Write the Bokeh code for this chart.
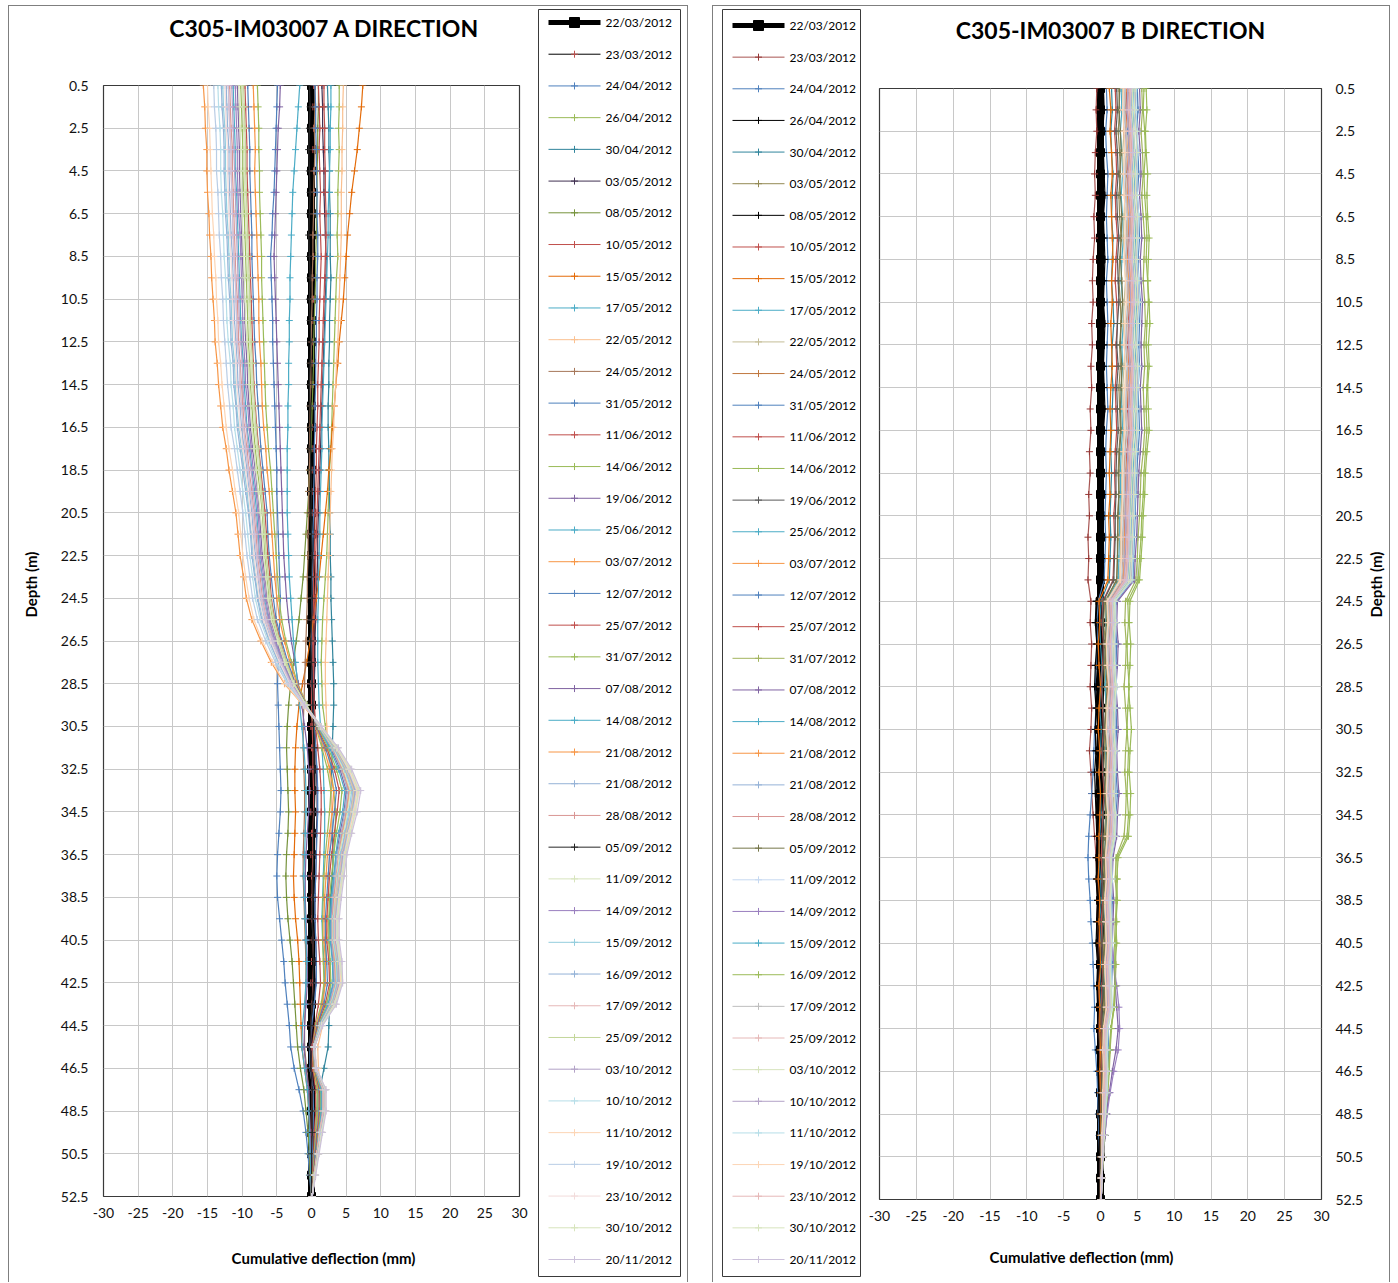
from bokeh.plotting import figure
from bokeh.models import Range1d, Spacer, Plot, PrintfTickFormatter
from bokeh.layouts import row, column
from bokeh.embed import file_html
from bokeh.resources import INLINE
from bokeh.core.properties import value
import math

FONT = "Lato"
H = 1276          # content height of each panel (page y 6..1282)
TOP = 6

DEPTH_M = [0.5, 1.5, 2.5, 3.5, 4.5, 5.5, 6.5, 7.5, 8.5, 9.5,
           10.5, 11.5, 12.5, 13.5, 14.5, 15.5, 16.5, 17.5, 18.5, 19.5,
           20.5, 21.5, 22.5, 23.5, 24.5, 25.5, 26.5, 27.5, 28.5, 29.5,
           30.5, 31.5, 32.5, 33.5, 34.5, 35.5, 36.5, 37.5, 38.5, 39.5,
           40.5, 41.5, 42.5, 43.5, 44.5, 45.5, 46.5, 47.5, 48.5, 49.5,
           50.5, 51.5, 52.5]
X_TICKS = [-30, -25, -20, -15, -10, -5, 0, 5, 10, 15, 20, 25, 30]
Y_TICKS = [0.5, 2.5, 4.5, 6.5, 8.5, 10.5, 12.5, 14.5, 16.5, 18.5, 20.5, 22.5, 24.5, 26.5,
           28.5, 30.5, 32.5, 34.5, 36.5, 38.5, 40.5, 42.5, 44.5, 46.5, 48.5, 50.5, 52.5]

DATES = ["22/03/2012", "23/03/2012", "24/04/2012", "26/04/2012", "30/04/2012", "03/05/2012",
         "08/05/2012", "10/05/2012", "15/05/2012", "17/05/2012", "22/05/2012", "24/05/2012",
         "31/05/2012", "11/06/2012", "14/06/2012", "19/06/2012", "25/06/2012", "03/07/2012",
         "12/07/2012", "25/07/2012", "31/07/2012", "07/08/2012", "14/08/2012", "21/08/2012",
         "21/08/2012", "28/08/2012", "05/09/2012", "11/09/2012", "14/09/2012", "15/09/2012",
         "16/09/2012", "17/09/2012", "25/09/2012", "03/10/2012", "10/10/2012", "11/10/2012",
         "19/10/2012", "23/10/2012", "30/10/2012", "20/11/2012"]

TITLE_A = "C305-IM03007 A DIRECTION"
TITLE_B = "C305-IM03007 B DIRECTION"
X_TITLE = "Cumulative deflection (mm)"
Y_TITLE = "Depth (m)"

# ---------------- A DIRECTION (mm) ----------------
A_2203 = [0, 0, 0, 0, 0, 0, 0, 0, 0, 0,
          0, 0, 0, 0, 0, 0, 0, 0, 0, 0,
          0, 0, 0, 0, 0, 0, 0, 0, 0, 0,
          0, 0, 0, 0, 0, 0, 0, 0, 0, 0,
          0, 0, 0, 0, 0, 0, 0, 0, 0, 0,
          0, 0, 0]
A_2303 = [0.3, 0.2, 0.3, 0.2, 0.3, 0.4, 0.3, 0.2, 0.3, 0.2,
          0.3, 0.2, 0.1, 0.2, 0.3, 0.2, 0.1, 0.2, 0.1, 0.2,
          0.1, 0.0, 0.1, 0.2, 0.1, 0.0, 0.1, 0.0, -0.1, 0.0,
          -0.1, 0.0, -0.1, -0.2, -0.1, 0.0, -0.1, 0.0, 0.1, 0.0,
          0.1, 0.0, -0.1, 0.0, 0.1, 0.0, 0.1, 0.0, 0.1, 0.0,
          0.0, 0.1, 0.0]
A_2404 = [-4.9, -5.0, -5.1, -5.2, -5.3, -5.4, -5.6, -5.7, -5.9, -5.8,
          -5.7, -5.6, -5.6, -5.5, -5.4, -5.3, -5.2, -5.1, -5.0, -5.0,
          -4.9, -4.8, -4.7, -4.6, -4.5, -4.6, -4.7, -4.8, -4.9, -4.8,
          -4.7, -4.6, -4.5, -4.4, -4.5, -4.7, -4.9, -5.0, -4.9, -4.6,
          -4.3, -4.0, -3.8, -3.5, -3.2, -3.0, -2.5, -1.8, -1.2, -0.8,
          -0.5, -0.3, 0.0]
A_2604 = [4.0, 4.0, 3.9, 4.0, 3.9, 3.8, 3.8, 3.7, 3.8, 3.6,
          3.5, 3.4, 3.3, 3.2, 3.1, 3.0, 2.9, 2.8, 2.6, 2.5,
          2.4, 2.3, 2.2, 2.0, 1.8, 1.6, 1.5, 1.4, 1.5, 1.6,
          2.0, 2.4, 2.8, 3.2, 3.5, 3.4, 3.2, 3.0, 2.8, 2.6,
          2.0, 2.1, 1.9, 1.5, 0.8, 0.3, 0.4, 0.9, 0.8, 0.6,
          0.4, 0.2, 0.0]
A_3004 = [2.3, 2.4, 2.5, 2.5, 2.6, 2.6, 2.7, 2.7, 2.7, 2.8,
          2.7, 2.6, 2.6, 2.5, 2.5, 2.4, 2.4, 2.5, 2.5, 2.6,
          2.6, 2.7, 2.7, 2.8, 2.8, 2.9, 3.0, 3.1, 3.2, 3.2,
          3.1, 3.0, 2.9, 2.8, 2.9, 3.0, 3.1, 3.0, 2.8, 2.6,
          2.5, 2.6, 2.7, 2.6, 2.5, 2.4, 1.8, 1.2, 0.9, 0.6,
          0.4, 0.2, 0.0]
A_0305 = [1.5, 1.6, 1.6, 1.7, 1.8, 1.8, 1.9, 2.0, 2.1, 2.1,
          2.0, 1.9, 1.8, 1.7, 1.6, 1.5, 1.4, 1.3, 1.2, 1.1,
          1.0, 0.9, 0.9, 0.8, 0.7, 0.6, 0.5, 0.5, 0.4, 0.4,
          0.5, 0.6, 0.7, 0.8, 0.8, 0.7, 0.7, 0.6, 0.5, 0.5,
          0.6, 0.7, 0.6, 0.4, 0.1, -0.1, 0.0, 0.3, 0.3, 0.2,
          0.1, 0.1, 0.0]
A_0805 = [1.0, 1.0, 0.9, 0.9, 0.8, 0.8, 0.7, 0.7, 0.6, 0.6,
          0.5, 0.4, 0.3, 0.3, 0.2, 0.1, 0.0, -0.1, -0.3, -0.4,
          -0.6, -0.8, -1.0, -1.2, -1.5, -1.8, -2.2, -2.6, -3.0, -3.3,
          -3.5, -3.6, -3.5, -3.4, -3.3, -3.4, -3.6, -3.7, -3.6, -3.4,
          -3.1, -2.8, -2.6, -2.4, -2.2, -2.0, -1.6, -1.1, -0.8, -0.5,
          -0.3, -0.2, 0.0]
A_1005 = [1.0, 1.1, 1.2, 1.1, 1.2, 1.3, 1.2, 1.3, 1.4, 1.3,
          1.2, 1.1, 1.1, 1.0, 0.9, 0.9, 0.8, 0.7, 0.7, 0.6,
          0.5, 0.5, 0.4, 0.3, 0.3, 0.2, 0.1, 0.1, 0.0, 0.0,
          0.1, 0.2, 0.2, 0.3, 0.3, 0.2, 0.2, 0.1, 0.1, 0.1,
          0.2, 0.3, 0.2, 0.1, -0.1, -0.2, -0.1, 0.1, 0.1, 0.1,
          0.0, 0.0, 0.0]
A_1505 = [7.4, 7.2, 6.9, 6.6, 6.2, 5.8, 5.5, 5.2, 5.0, 4.8,
          4.6, 4.3, 4.0, 3.8, 3.5, 3.3, 3.0, 2.8, 2.5, 2.3,
          2.0, 1.7, 1.4, 1.1, 0.7, 0.3, -0.2, -0.7, -1.3, -1.8,
          -2.1, -2.3, -2.4, -2.4, -2.3, -2.4, -2.5, -2.6, -2.5, -2.3,
          -2.0, -1.8, -1.7, -1.6, -1.5, -1.4, -1.0, -0.6, -0.4, -0.3,
          -0.2, -0.1, 0.0]
A_1705 = [2.8, 2.8, 2.7, 2.7, 2.6, 2.5, 2.4, 2.4, 2.3, 2.2,
          2.1, 2.0, 1.9, 1.8, 1.7, 1.6, 1.5, 1.5, 1.4, 1.3,
          1.2, 1.2, 1.1, 1.0, 1.0, 0.9, 0.9, 0.9, 1.0, 1.1,
          1.3, 1.5, 1.7, 1.8, 1.9, 1.9, 1.8, 1.7, 1.6, 1.5,
          1.6, 1.8, 1.9, 1.6, 1.0, 0.5, 0.6, 0.9, 0.8, 0.6,
          0.4, 0.2, 0.0]
A_2205 = [4.6, 4.5, 4.5, 4.4, 4.4, 4.3, 4.3, 4.3, 4.2, 4.1,
          4.0, 3.9, 3.8, 3.6, 3.5, 3.3, 3.2, 3.0, 2.9, 2.8,
          2.7, 2.6, 2.5, 2.4, 2.3, 2.2, 2.1, 2.0, 2.0, 2.1,
          2.2, 2.4, 2.6, 2.8, 2.9, 2.8, 2.6, 2.5, 2.4, 2.3,
          2.4, 2.6, 2.7, 2.3, 1.6, 0.9, 1.0, 1.4, 1.3, 1.0,
          0.7, 0.4, 0.1]
A_2405 = [0.5, 0.5, 0.4, 0.5, 0.4, 0.3, 0.3, 0.2, 0.2, 0.1,
          0.1, 0.0, 0.0, -0.1, -0.1, -0.2, -0.2, -0.3, -0.3, -0.4,
          -0.4, -0.5, -0.5, -0.6, -0.6, -0.7, -0.8, -0.9, -1.0, -1.1,
          -1.2, -1.2, -1.1, -1.0, -1.0, -1.1, -1.2, -1.2, -1.1, -1.0,
          -0.9, -0.8, -0.8, -0.9, -1.0, -1.0, -0.7, -0.4, -0.3, -0.2,
          -0.1, -0.1, 0.0]
A_3105 = [0.5, 0.6, 0.6, 0.7, 0.7, 0.8, 0.8, 0.9, 0.9, 0.8,
          0.8, 0.7, 0.7, 0.6, 0.6, 0.5, 0.5, 0.4, 0.4, 0.3,
          0.3, 0.2, 0.2, 0.1, 0.1, 0.0, 0.0, 0.0, 0.1, 0.2,
          0.4, 0.6, 0.8, 0.9, 0.9, 0.8, 0.7, 0.6, 0.5, 0.5,
          0.6, 0.7, 0.7, 0.4, 0.0, -0.3, -0.2, 0.2, 0.3, 0.2,
          0.1, 0.1, 0.0]
A_1106 = [1.8, 1.8, 1.9, 1.9, 2.0, 2.0, 2.1, 2.1, 2.0, 1.9,
          1.8, 1.7, 1.6, 1.5, 1.4, 1.3, 1.2, 1.1, 1.0, 0.9,
          0.8, 0.7, 0.6, 0.6, 0.5, 0.4, 0.3, 0.3, 0.3, 0.4,
          0.6, 0.9, 1.2, 1.4, 1.4, 1.3, 1.2, 1.1, 1.0, 0.9,
          1.0, 1.2, 1.3, 1.0, 0.5, 0.1, 0.2, 0.6, 0.6, 0.4,
          0.3, 0.1, 0.0]
A_1406 = [-7.8, -7.7, -7.6, -7.6, -7.5, -7.5, -7.4, -7.3, -7.2, -7.2,
          -7.1, -7.0, -6.9, -6.8, -6.7, -6.6, -6.4, -6.2, -5.9, -5.7,
          -5.5, -5.3, -5.1, -4.9, -4.7, -4.3, -3.7, -2.9, -2.0, -0.6,
          0.6, 1.5, 2.3, 2.8, 2.6, 2.3, 2.0, 1.8, 1.7, 1.6,
          1.6, 1.7, 1.8, 1.4, 0.6, 0.2, 0.3, 0.8, 0.8, 0.6,
          0.4, 0.2, 0.1]
A_1906 = [-4.5, -4.6, -4.8, -4.9, -5.0, -5.1, -5.2, -5.3, -5.4, -5.3,
          -5.2, -5.1, -5.0, -4.9, -4.8, -4.7, -4.6, -4.5, -4.4, -4.3,
          -4.2, -4.1, -4.0, -3.8, -3.6, -3.3, -2.9, -2.4, -1.9, -1.4,
          -1.0, -0.6, -0.4, -0.3, -0.4, -0.6, -0.8, -0.9, -0.9, -0.8,
          -0.7, -0.6, -0.6, -0.8, -1.0, -1.1, -0.8, -0.4, -0.3, -0.2,
          -0.1, -0.1, 0.0]
A_2506 = [-1.7, -1.9, -2.1, -2.3, -2.5, -2.7, -2.8, -2.9, -3.0, -3.1,
          -3.1, -3.2, -3.2, -3.3, -3.3, -3.4, -3.4, -3.5, -3.5, -3.5,
          -3.5, -3.4, -3.3, -3.2, -3.0, -2.8, -2.6, -2.3, -2.0, -1.7,
          -1.4, -1.1, -0.9, -0.8, -0.8, -0.9, -1.0, -1.1, -1.0, -0.9,
          -0.8, -0.7, -0.8, -1.0, -1.3, -1.4, -1.0, -0.6, -0.4, -0.3,
          -0.2, -0.1, 0.0]
A_0307 = [-8.4, -8.3, -8.2, -8.1, -8.2, -8.1, -8.0, -7.9, -7.8, -7.7,
          -7.6, -7.6, -7.5, -7.3, -7.2, -7.1, -6.9, -6.6, -6.4, -6.1,
          -5.9, -5.7, -5.5, -5.3, -5.0, -4.6, -3.9, -3.1, -2.1, -0.7,
          0.6, 1.8, 2.6, 3.2, 3.0, 2.6, 2.3, 2.1, 1.9, 1.8,
          1.8, 2.0, 2.0, 1.6, 0.7, 0.2, 0.3, 1.0, 1.0, 0.7,
          0.5, 0.3, 0.1]
A_1207 = [-9.2, -9.1, -9.0, -8.9, -8.9, -8.8, -8.7, -8.6, -8.6, -8.5,
          -8.4, -8.3, -8.2, -8.0, -7.9, -7.7, -7.5, -7.3, -7.0, -6.7,
          -6.4, -6.3, -6.1, -5.8, -5.5, -5.1, -4.3, -3.4, -2.3, -0.7,
          0.7, 2.0, 3.0, 3.6, 3.3, 3.0, 2.6, 2.4, 2.2, 2.0,
          2.0, 2.2, 2.3, 1.8, 0.8, 0.2, 0.4, 1.1, 1.1, 0.8,
          0.5, 0.3, 0.1]
A_2507 = [-9.6, -9.5, -9.4, -9.3, -9.3, -9.2, -9.1, -9.0, -8.9, -8.8,
          -8.7, -8.6, -8.5, -8.4, -8.3, -8.1, -7.9, -7.6, -7.3, -7.0,
          -6.7, -6.5, -6.3, -6.0, -5.8, -5.3, -4.5, -3.6, -2.4, -0.8,
          0.8, 2.2, 3.3, 4.0, 3.7, 3.3, 2.9, 2.6, 2.4, 2.2,
          2.2, 2.5, 2.6, 2.0, 0.9, 0.2, 0.4, 1.2, 1.2, 0.9,
          0.6, 0.3, 0.1]
A_3107 = [-10.2, -10.1, -10.0, -9.9, -9.9, -9.8, -9.7, -9.6, -9.5, -9.4,
          -9.3, -9.2, -9.1, -8.9, -8.8, -8.6, -8.4, -8.1, -7.8, -7.4,
          -7.1, -6.9, -6.7, -6.4, -6.1, -5.6, -4.8, -3.8, -2.6, -0.8,
          0.9, 2.4, 3.6, 4.4, 4.1, 3.6, 3.2, 2.9, 2.6, 2.5,
          2.5, 2.7, 2.8, 2.2, 1.0, 0.3, 0.4, 1.3, 1.3, 1.0,
          0.7, 0.4, 0.1]
A_0708 = [-10.7, -10.6, -10.5, -10.4, -10.4, -10.3, -10.2, -10.1, -10.0, -9.8,
          -9.7, -9.6, -9.5, -9.3, -9.2, -9.0, -8.8, -8.5, -8.1, -7.8,
          -7.5, -7.3, -7.1, -6.7, -6.4, -5.9, -5.0, -4.0, -2.7, -0.9,
          1.0, 2.8, 4.1, 5.0, 4.7, 4.1, 3.6, 3.3, 3.0, 2.8,
          2.8, 3.1, 3.2, 2.5, 1.1, 0.3, 0.5, 1.5, 1.5, 1.1,
          0.8, 0.4, 0.1]
A_1408 = [-11.3, -11.2, -11.1, -11.0, -11.0, -10.8, -10.7, -10.6, -10.5, -10.4,
          -10.3, -10.2, -10.1, -9.8, -9.7, -9.5, -9.3, -8.9, -8.6, -8.2,
          -7.9, -7.7, -7.5, -7.1, -6.8, -6.2, -5.3, -4.2, -2.8, -0.9,
          1.0, 2.6, 3.9, 4.8, 4.5, 3.9, 3.5, 3.2, 2.9, 2.7,
          2.7, 3.0, 3.1, 2.4, 1.1, 0.3, 0.5, 1.4, 1.4, 1.1,
          0.7, 0.4, 0.1]
A_2108 = [-15.6, -15.4, -15.3, -15.1, -15.1, -15.0, -14.8, -14.7, -14.5, -14.4,
          -14.2, -14.0, -13.9, -13.6, -13.4, -13.1, -12.8, -12.3, -11.9, -11.4,
          -10.9, -10.6, -10.3, -9.8, -9.4, -8.6, -7.3, -5.8, -3.9, -1.2,
          1.1, 3.0, 4.5, 5.5, 5.1, 4.5, 4.0, 3.6, 3.3, 3.1,
          3.1, 3.4, 3.5, 2.8, 1.2, 0.3, 0.6, 1.7, 1.7, 1.2,
          0.8, 0.4, 0.1]
A_2108B = [-12.3, -12.2, -12.1, -11.9, -11.9, -11.8, -11.7, -11.6, -11.4, -11.3,
           -11.2, -11.1, -10.9, -10.7, -10.6, -10.3, -10.1, -9.7, -9.3, -9.0,
           -8.6, -8.4, -8.1, -7.7, -7.4, -6.8, -5.8, -4.6, -3.1, -1.0,
           1.0, 2.9, 4.3, 5.2, 4.8, 4.3, 3.7, 3.4, 3.1, 2.9,
           2.9, 3.2, 3.3, 2.6, 1.1, 0.3, 0.5, 1.6, 1.6, 1.1,
           0.8, 0.4, 0.1]
A_2808 = [-11.8, -11.7, -11.6, -11.4, -11.4, -11.3, -11.2, -11.1, -11.0, -10.9,
          -10.7, -10.6, -10.5, -10.3, -10.1, -9.9, -9.7, -9.3, -9.0, -8.6,
          -8.3, -8.0, -7.8, -7.4, -7.1, -6.5, -5.5, -4.4, -3.0, -0.9,
          1.1, 3.0, 4.4, 5.4, 5.0, 4.4, 3.9, 3.6, 3.2, 3.0,
          3.0, 3.3, 3.5, 2.7, 1.2, 0.3, 0.5, 1.6, 1.6, 1.2,
          0.8, 0.4, 0.1]
A_0509 = [-0.3, -0.2, -0.3, -0.4, -0.3, -0.2, -0.3, -0.4, -0.3, -0.2,
          -0.3, -0.2, -0.1, -0.2, -0.3, -0.2, -0.1, -0.2, -0.1, 0.0,
          -0.1, 0.0, 0.1, 0.0, 0.1, 0.0, -0.1, 0.0, 0.1, 0.2,
          0.3, 0.4, 0.5, 0.5, 0.4, 0.3, 0.3, 0.2, 0.2, 0.1,
          0.2, 0.3, 0.3, 0.1, -0.1, -0.2, -0.1, 0.1, 0.1, 0.1,
          0.0, 0.0, 0.0]
A_1109 = [-10.0, -9.9, -9.8, -9.7, -9.7, -9.6, -9.5, -9.4, -9.3, -9.2,
          -9.1, -9.0, -8.9, -8.7, -8.6, -8.4, -8.2, -7.9, -7.6, -7.3,
          -7.0, -6.8, -6.6, -6.3, -6.0, -5.5, -4.7, -3.7, -2.5, -0.8,
          1.1, 3.1, 4.6, 5.6, 5.2, 4.6, 4.0, 3.7, 3.4, 3.1,
          3.1, 3.5, 3.6, 2.8, 1.2, 0.3, 0.6, 1.7, 1.7, 1.2,
          0.8, 0.4, 0.1]
A_1409 = [-11.0, -10.9, -10.8, -10.7, -10.7, -10.6, -10.5, -10.3, -10.2, -10.1,
          -10.0, -9.9, -9.8, -9.6, -9.5, -9.2, -9.0, -8.7, -8.4, -8.0,
          -7.7, -7.5, -7.3, -6.9, -6.6, -6.1, -5.2, -4.1, -2.8, -0.9,
          1.3, 3.5, 5.2, 6.4, 6.0, 5.2, 4.6, 4.2, 3.8, 3.6,
          3.6, 4.0, 4.1, 3.2, 1.4, 0.4, 0.6, 1.9, 1.9, 1.4,
          1.0, 0.5, 0.1]
A_1509 = [-12.8, -12.7, -12.5, -12.4, -12.4, -12.3, -12.2, -12.0, -11.9, -11.8,
          -11.6, -11.5, -11.4, -11.1, -11.0, -10.8, -10.5, -10.1, -9.7, -9.3,
          -9.0, -8.7, -8.4, -8.1, -7.7, -7.0, -6.0, -4.7, -3.2, -1.0,
          1.2, 3.2, 4.8, 5.8, 5.4, 4.8, 4.2, 3.8, 3.5, 3.2,
          3.2, 3.6, 3.7, 2.9, 1.3, 0.3, 0.6, 1.7, 1.7, 1.3,
          0.9, 0.5, 0.1]
A_1609 = [-13.0, -12.9, -12.7, -12.6, -12.6, -12.5, -12.4, -12.2, -12.1, -12.0,
          -11.8, -11.7, -11.6, -11.3, -11.2, -10.9, -10.7, -10.3, -9.9, -9.5,
          -9.1, -8.8, -8.6, -8.2, -7.8, -7.2, -6.1, -4.8, -3.3, -1.0,
          1.2, 3.3, 4.9, 6.0, 5.6, 4.9, 4.3, 4.0, 3.6, 3.4,
          3.4, 3.7, 3.8, 3.0, 1.3, 0.4, 0.6, 1.8, 1.8, 1.3,
          0.9, 0.5, 0.1]
A_1709 = [-12.0, -11.9, -11.8, -11.6, -11.6, -11.5, -11.4, -11.3, -11.2, -11.0,
          -10.9, -10.8, -10.7, -10.4, -10.3, -10.1, -9.8, -9.5, -9.1, -8.8,
          -8.4, -8.2, -7.9, -7.6, -7.2, -6.6, -5.6, -4.4, -3.0, -1.0,
          1.3, 3.4, 5.0, 6.1, 5.7, 5.0, 4.4, 3.9, 3.5, 3.3,
          3.3, 3.8, 3.9, 3.1, 1.4, 0.5, 0.7, 1.7, 1.7, 1.2,
          0.8, 0.4, 0.1]
A_2509 = [-9.8, -9.7, -9.6, -9.5, -9.5, -9.4, -9.3, -9.2, -9.1, -9.0,
          -8.9, -8.8, -8.7, -8.5, -8.4, -8.2, -8.0, -7.7, -7.4, -7.2,
          -6.9, -6.7, -6.5, -6.2, -5.9, -5.4, -4.6, -3.6, -2.5, -0.8,
          1.2, 3.4, 5.1, 6.2, 5.8, 5.1, 4.5, 4.1, 3.7, 3.5,
          3.5, 3.8, 4.0, 3.1, 1.4, 0.4, 0.6, 1.9, 1.9, 1.4,
          0.9, 0.5, 0.1]
A_0310 = [-11.5, -11.4, -11.3, -11.2, -11.1, -11.0, -10.9, -10.8, -10.7, -10.6,
          -10.5, -10.4, -10.2, -10.0, -9.9, -9.7, -9.4, -9.1, -8.7, -8.4,
          -8.1, -7.8, -7.6, -7.2, -6.9, -6.3, -5.4, -4.3, -2.9, -0.9,
          1.3, 3.5, 5.2, 6.3, 5.9, 5.2, 4.5, 4.2, 3.8, 3.5,
          3.5, 3.9, 4.0, 3.2, 1.4, 0.4, 0.6, 1.9, 1.9, 1.4,
          0.9, 0.5, 0.1]
A_1010 = [-13.5, -13.4, -13.2, -13.1, -13.1, -13.0, -12.8, -12.7, -12.6, -12.4,
          -12.3, -12.2, -12.0, -11.7, -11.6, -11.3, -11.1, -10.7, -10.3, -9.9,
          -9.5, -9.2, -8.9, -8.5, -8.1, -7.4, -6.3, -5.0, -3.4, -1.1,
          1.3, 3.6, 5.3, 6.5, 6.0, 5.3, 4.7, 4.3, 3.9, 3.6,
          3.6, 4.0, 4.2, 3.3, 1.4, 0.4, 0.7, 2.0, 2.0, 1.4,
          1.0, 0.5, 0.1]
A_1110 = [-15.0, -14.9, -14.7, -14.6, -14.5, -14.4, -14.3, -14.1, -14.0, -13.8,
          -13.7, -13.5, -13.4, -13.1, -12.9, -12.6, -12.3, -11.9, -11.4, -11.0,
          -10.5, -10.2, -9.9, -9.5, -9.0, -8.3, -7.1, -5.6, -3.8, -1.2,
          1.3, 3.6, 5.4, 6.6, 6.1, 5.4, 4.8, 4.4, 4.0, 3.7,
          3.7, 4.1, 4.2, 3.3, 1.5, 0.4, 0.7, 2.0, 2.0, 1.5,
          1.0, 0.5, 0.1]
A_1910 = [-14.1, -14.0, -13.8, -13.7, -13.7, -13.5, -13.4, -13.3, -13.1, -13.0,
          -12.8, -12.7, -12.5, -12.3, -12.1, -11.8, -11.6, -11.1, -10.7, -10.3,
          -9.9, -9.6, -9.3, -8.9, -8.5, -7.8, -6.6, -5.2, -3.5, -1.1,
          1.4, 3.7, 5.6, 6.8, 6.3, 5.6, 4.9, 4.5, 4.1, 3.8,
          3.8, 4.2, 4.4, 3.4, 1.5, 0.4, 0.7, 2.0, 2.0, 1.5,
          1.0, 0.5, 0.1]
A_2310 = [-12.5, -12.4, -12.3, -12.1, -12.1, -12.0, -11.9, -11.8, -11.6, -11.5,
          -11.4, -11.3, -11.1, -10.9, -10.8, -10.5, -10.3, -9.9, -9.5, -9.1,
          -8.8, -8.5, -8.3, -7.9, -7.5, -6.9, -5.9, -4.6, -3.1, -1.0,
          1.4, 3.8, 5.7, 6.9, 6.4, 5.7, 5.0, 4.6, 4.1, 3.9,
          3.9, 4.3, 4.4, 3.5, 1.5, 0.4, 0.7, 2.1, 2.1, 1.5,
          1.0, 0.6, 0.1]
A_3010 = [-10.5, -10.4, -10.3, -10.2, -10.2, -10.1, -10.0, -9.9, -9.8, -9.7,
          -9.6, -9.5, -9.3, -9.1, -9.0, -8.8, -8.6, -8.3, -8.0, -7.7,
          -7.4, -7.1, -6.9, -6.6, -6.3, -5.8, -4.9, -3.9, -2.6, -0.8,
          1.4, 3.7, 5.6, 6.8, 6.3, 5.6, 4.9, 4.5, 4.1, 3.8,
          3.8, 4.2, 4.4, 3.4, 1.5, 0.4, 0.7, 2.0, 2.0, 1.5,
          1.0, 0.5, 0.1]
A_2011 = [-12.0, -11.9, -11.8, -11.6, -11.6, -11.5, -11.4, -11.3, -11.2, -11.0,
          -10.9, -10.8, -10.7, -10.4, -10.3, -10.1, -9.8, -9.5, -9.1, -8.8,
          -8.4, -8.2, -7.9, -7.6, -7.2, -6.6, -5.6, -4.4, -3.0, -1.0,
          1.4, 3.9, 5.8, 7.1, 6.6, 5.8, 5.1, 4.7, 4.3, 4.0,
          4.0, 4.4, 4.5, 3.6, 1.6, 0.4, 0.7, 2.1, 2.1, 1.6,
          1.1, 0.6, 0.1]

A_SERIES = [A_2203, A_2303, A_2404, A_2604, A_3004, A_0305, A_0805, A_1005, A_1505, A_1705,
            A_2205, A_2405, A_3105, A_1106, A_1406, A_1906, A_2506, A_0307, A_1207, A_2507,
            A_3107, A_0708, A_1408, A_2108, A_2108B, A_2808, A_0509, A_1109, A_1409, A_1509,
            A_1609, A_1709, A_2509, A_0310, A_1010, A_1110, A_1910, A_2310, A_3010, A_2011]

# ---------------- B DIRECTION (mm) ----------------
B_2203 = [0, 0, 0, 0, 0, 0, 0, 0, 0, 0, 0, 0,
          0, 0, 0, 0, 0, 0, 0, 0, 0, 0, 0, 0,
          0, 0, 0, 0, 0, 0, 0, 0, 0, 0, 0, 0,
          0, 0, 0, 0, 0, 0, 0, 0, 0, 0, 0, 0,
          0, 0, 0, 0, 0]
B_2303 = [-0.5, -0.6, -0.5, -0.7, -0.8, -0.7, -0.9, -0.8, -1.0, -1.1, -1.0, -1.2,
          -1.1, -1.3, -1.2, -1.4, -1.3, -1.5, -1.4, -1.6, -1.5, -1.7, -1.6, -1.7,
          -1.3, -1.4, -1.2, -1.3, -1.4, -1.2, -1.3, -1.5, -1.3, -1.2, -1.0, -0.8,
          -0.6, -0.5, -0.4, -0.5, -0.3, -0.4, -0.3, -0.2, -0.3, -0.2, -0.2, -0.1,
          -0.1, 0.0, 0.0, 0.0, 0.0]
B_2404 = [0.8, 0.9, 0.7, 0.8, 1.0, 0.9, 0.8, 0.9, 1.0, 0.8, 0.9, 1.0,
          0.9, 0.8, 0.9, 1.0, 0.8, 0.7, 0.8, 0.7, 0.6, 0.7, 0.6, 0.5,
          -0.3, -0.5, -0.4, -0.6, -0.7, -0.6, -0.8, -0.9, -1.0, -1.2, -1.4, -1.6,
          -1.7, -1.6, -1.4, -1.3, -1.1, -1.0, -0.9, -0.8, -0.9, -0.7, -0.5, -0.4,
          -0.3, -0.2, -0.1, 0.0, 0.0]
B_2604 = [0.2, 0.3, 0.2, 0.1, 0.2, 0.3, 0.2, 0.3, 0.4, 0.3, 0.2, 0.3,
          0.4, 0.3, 0.2, 0.3, 0.2, 0.1, 0.2, 0.1, 0.2, 0.1, 0.0, 0.1,
          -0.5, -0.6, -0.5, -0.4, -0.6, -0.5, -0.7, -0.6, -0.5, -0.6, -0.5, -0.4,
          -0.6, -0.5, -0.4, -0.5, -0.4, -0.3, -0.4, -0.3, -0.4, -0.3, -0.2, -0.2,
          -0.1, -0.1, 0.0, 0.0, 0.0]
B_3004 = [1.5, 1.6, 1.4, 1.5, 1.7, 1.6, 1.5, 1.7, 1.6, 1.5, 1.7, 1.8,
          1.6, 1.5, 1.7, 1.6, 1.5, 1.4, 1.5, 1.4, 1.3, 1.4, 1.3, 1.2,
          0.1, -0.1, 0.0, 0.2, 0.0, -0.1, 0.1, 0.0, -0.2, 0.0, 0.1, -0.1,
          -0.2, 0.0, 0.1, -0.1, 0.0, 0.1, -0.1, 0.0, -0.1, 0.0, 0.1, 0.0,
          0.0, 0.0, 0.1, 0.0, 0.0]
B_0305 = [2.5, 2.6, 2.4, 2.6, 2.7, 2.5, 2.6, 2.8, 2.6, 2.5, 2.7, 2.8,
          2.6, 2.7, 2.5, 2.6, 2.7, 2.5, 2.4, 2.5, 2.3, 2.4, 2.3, 2.2,
          0.6, 0.4, 0.7, 0.5, 0.6, 0.8, 0.5, 0.6, 0.4, 0.6, 0.7, 0.5,
          0.3, 0.5, 0.4, 0.2, 0.4, 0.5, 0.3, 0.4, 0.2, 0.3, 0.2, 0.1,
          0.2, 0.1, 0.1, 0.1, 0.0]
B_0805 = [0.4, 0.5, 0.3, 0.4, 0.5, 0.6, 0.4, 0.5, 0.6, 0.5, 0.4, 0.6,
          0.5, 0.4, 0.5, 0.6, 0.4, 0.3, 0.4, 0.3, 0.4, 0.3, 0.2, 0.3,
          -0.6, -0.7, -0.5, -0.7, -0.8, -0.6, -0.7, -0.6, -0.8, -0.7, -0.6, -0.5,
          -0.5, -0.6, -0.4, -0.5, -0.6, -0.4, -0.5, -0.4, -0.4, -0.3, -0.3, -0.2,
          -0.2, -0.1, -0.1, 0.0, 0.0]
B_1005 = [2.0, 2.1, 1.9, 2.1, 2.2, 2.0, 2.1, 2.3, 2.1, 2.0, 2.2, 2.3,
          2.1, 2.2, 2.0, 2.1, 2.2, 2.0, 1.9, 2.0, 1.8, 1.9, 1.8, 1.7,
          0.3, 0.2, 0.4, 0.3, 0.1, 0.3, 0.4, 0.2, 0.3, 0.5, 0.3, 0.2,
          0.1, 0.2, 0.3, 0.1, 0.2, 0.3, 0.2, 0.1, 0.1, 0.2, 0.1, 0.0,
          0.1, 0.1, 0.0, 0.0, 0.0]
B_1505 = [1.2, 1.4, 1.3, 1.5, 1.6, 1.4, 1.5, 1.6, 1.7, 1.5, 1.6, 1.4,
          1.5, 1.6, 1.4, 1.3, 1.4, 1.3, 1.2, 1.3, 1.1, 1.2, 1.1, 1.0,
          -0.2, -0.1, -0.3, -0.2, 0.0, -0.2, -0.3, -0.1, -0.2, 0.0, -0.1, -0.2,
          -0.2, -0.3, -0.1, -0.2, -0.1, 0.0, -0.2, -0.1, -0.1, 0.0, -0.1, 0.0,
          0.0, 0.0, 0.0, 0.0, 0.0]
B_1705 = [2.8, 2.9, 2.7, 2.9, 3.0, 2.8, 3.0, 3.1, 2.9, 2.8, 3.0, 3.1,
          2.9, 3.0, 2.8, 2.9, 3.0, 2.8, 2.7, 2.7, 2.6, 2.6, 2.5, 2.4,
          0.8, 0.7, 0.9, 0.8, 0.6, 0.8, 0.9, 0.7, 0.8, 1.0, 0.8, 0.7,
          0.5, 0.6, 0.7, 0.5, 0.6, 0.7, 0.5, 0.6, 0.3, 0.4, 0.3, 0.3,
          0.3, 0.2, 0.2, 0.1, 0.1]
B_2205 = [3.0, 3.1, 3.2, 3.0, 3.1, 3.3, 3.2, 3.1, 3.3, 3.4, 3.2, 3.1,
          3.3, 3.2, 3.0, 3.1, 3.2, 3.0, 2.9, 2.9, 2.8, 2.7, 2.7, 2.6,
          0.9, 1.0, 0.8, 0.9, 1.1, 0.9, 0.8, 1.0, 0.9, 0.8, 1.0, 0.9,
          0.6, 0.7, 0.6, 0.8, 0.7, 0.6, 0.7, 0.6, 0.4, 0.5, 0.4, 0.3,
          0.3, 0.2, 0.2, 0.1, 0.1]
B_2405 = [3.3, 3.4, 3.2, 3.4, 3.5, 3.3, 3.5, 3.6, 3.4, 3.5, 3.7, 3.5,
          3.4, 3.6, 3.4, 3.3, 3.5, 3.3, 3.2, 3.2, 3.1, 3.0, 3.0, 2.9,
          1.1, 1.0, 1.2, 1.1, 0.9, 1.1, 1.3, 1.1, 1.0, 1.2, 1.1, 1.0,
          0.8, 0.7, 0.9, 0.8, 0.7, 0.9, 0.8, 0.7, 0.5, 0.6, 0.5, 0.4,
          0.4, 0.3, 0.2, 0.2, 0.1]
B_3105 = [3.8, 3.9, 3.7, 3.9, 4.0, 3.8, 4.0, 4.1, 4.0, 3.9, 4.1, 4.2,
          4.0, 4.1, 3.9, 4.0, 4.1, 3.9, 3.7, 3.7, 3.6, 3.5, 3.4, 3.3,
          1.4, 1.3, 1.5, 1.4, 1.2, 1.4, 1.5, 1.3, 1.4, 1.6, 1.4, 1.3,
          1.0, 0.9, 1.1, 1.0, 0.9, 1.1, 1.0, 0.9, 0.6, 0.7, 0.6, 0.5,
          0.5, 0.4, 0.3, 0.2, 0.1]
B_1106 = [3.5, 3.6, 3.4, 3.5, 3.7, 3.6, 3.7, 3.8, 3.6, 3.7, 3.9, 3.8,
          3.7, 3.8, 3.6, 3.7, 3.8, 3.6, 3.4, 3.4, 3.3, 3.2, 3.1, 3.0,
          1.2, 1.1, 1.3, 1.2, 1.0, 1.2, 1.3, 1.1, 1.2, 1.4, 1.2, 1.1,
          0.9, 0.8, 1.0, 0.9, 0.8, 1.0, 0.9, 0.8, 0.5, 0.6, 0.5, 0.4,
          0.4, 0.3, 0.3, 0.2, 0.1]
B_1406 = [6.2, 6.3, 6.1, 6.2, 6.4, 6.3, 6.4, 6.6, 6.5, 6.4, 6.6, 6.7,
          6.5, 6.6, 6.4, 6.5, 6.6, 6.3, 6.1, 6.0, 5.8, 5.7, 5.5, 5.3,
          4.0, 3.9, 4.1, 4.0, 3.8, 4.0, 4.2, 4.0, 3.9, 4.1, 4.0, 3.8,
          2.4, 2.2, 2.3, 2.1, 2.2, 2.0, 1.9, 1.8, 1.5, 1.3, 1.1, 0.9,
          0.8, 0.6, 0.4, 0.2, 0.1]
B_1906 = [2.2, 2.3, 2.1, 2.3, 2.4, 2.2, 2.3, 2.5, 2.3, 2.4, 2.5, 2.3,
          2.2, 2.4, 2.2, 2.3, 2.4, 2.2, 2.1, 2.1, 2.0, 2.0, 1.9, 1.8,
          0.4, 0.3, 0.5, 0.4, 0.2, 0.4, 0.5, 0.3, 0.4, 0.6, 0.4, 0.3,
          0.3, 0.2, 0.4, 0.3, 0.2, 0.4, 0.3, 0.2, 0.2, 0.3, 0.2, 0.1,
          0.1, 0.1, 0.0, 0.0, 0.0]
B_2506 = [4.0, 4.1, 3.9, 4.1, 4.2, 4.0, 4.2, 4.3, 4.1, 4.2, 4.4, 4.3,
          4.2, 4.3, 4.1, 4.2, 4.3, 4.1, 3.9, 3.9, 3.8, 3.7, 3.6, 3.5,
          1.5, 1.4, 1.6, 1.5, 1.3, 1.5, 1.6, 1.4, 1.5, 1.7, 1.5, 1.4,
          1.1, 1.0, 1.2, 1.1, 1.0, 1.2, 1.1, 1.0, 0.7, 0.8, 0.7, 0.6,
          0.5, 0.4, 0.3, 0.2, 0.1]
B_0307 = [3.6, 3.7, 3.5, 3.7, 3.8, 3.6, 3.8, 3.9, 3.7, 3.8, 4.0, 3.9,
          3.8, 3.9, 3.7, 3.8, 3.9, 3.7, 3.5, 3.5, 3.4, 3.3, 3.2, 3.1,
          1.3, 1.2, 1.4, 1.3, 1.1, 1.3, 1.4, 1.2, 1.3, 1.5, 1.3, 1.2,
          0.9, 0.8, 1.0, 0.9, 0.8, 1.0, 0.9, 0.8, 0.6, 0.7, 0.6, 0.5,
          0.4, 0.3, 0.3, 0.2, 0.1]
B_1207 = [5.0, 5.1, 4.9, 5.1, 5.2, 5.0, 5.2, 5.3, 5.1, 5.2, 5.4, 5.3,
          5.2, 5.3, 5.1, 5.2, 5.3, 5.1, 4.9, 4.8, 4.7, 4.6, 4.5, 4.4,
          2.1, 2.0, 2.2, 2.1, 1.9, 2.1, 2.2, 2.0, 2.1, 2.3, 2.1, 2.0,
          1.5, 1.4, 1.6, 1.5, 1.4, 1.6, 1.5, 1.4, 1.0, 1.1, 1.0, 0.9,
          0.7, 0.5, 0.4, 0.2, 0.1]
B_2507 = [4.2, 4.3, 4.1, 4.3, 4.4, 4.2, 4.4, 4.5, 4.3, 4.4, 4.6, 4.5,
          4.4, 4.5, 4.3, 4.4, 4.5, 4.3, 4.1, 4.1, 4.0, 3.9, 3.8, 3.7,
          1.6, 1.5, 1.7, 1.6, 1.4, 1.6, 1.7, 1.5, 1.6, 1.8, 1.6, 1.5,
          1.2, 1.1, 1.3, 1.2, 1.1, 1.3, 1.2, 1.1, 0.8, 0.9, 0.8, 0.7,
          0.6, 0.4, 0.3, 0.2, 0.1]
B_3107 = [5.6, 5.7, 5.5, 5.7, 5.8, 5.6, 5.8, 6.0, 5.9, 5.8, 6.0, 6.1,
          5.9, 6.0, 5.8, 5.9, 6.0, 5.8, 5.5, 5.4, 5.3, 5.1, 5.0, 4.8,
          3.4, 3.3, 3.5, 3.4, 3.2, 3.4, 3.6, 3.4, 3.3, 3.5, 3.4, 3.2,
          2.1, 2.0, 2.2, 2.0, 1.9, 2.1, 2.0, 1.8, 1.4, 1.3, 1.2, 1.0,
          0.8, 0.6, 0.4, 0.2, 0.1]
B_0708 = [5.3, 5.4, 5.2, 5.4, 5.5, 5.3, 5.5, 5.6, 5.4, 5.5, 5.7, 5.6,
          5.5, 5.6, 5.4, 5.5, 5.6, 5.4, 5.2, 5.1, 5.0, 4.9, 4.7, 4.6,
          2.3, 2.2, 2.4, 2.3, 2.1, 2.3, 2.4, 2.2, 2.3, 2.5, 2.3, 2.2,
          1.7, 1.6, 1.8, 1.7, 1.6, 1.8, 2.0, 2.2, 2.4, 2.1, 1.6, 1.2,
          0.8, 0.6, 0.4, 0.2, 0.1]
B_1408 = [4.5, 4.6, 4.4, 4.6, 4.7, 4.5, 4.7, 4.8, 4.6, 4.7, 4.9, 4.8,
          4.7, 4.8, 4.6, 4.7, 4.8, 4.6, 4.4, 4.3, 4.2, 4.1, 4.0, 3.9,
          1.8, 1.7, 1.9, 1.8, 1.6, 1.8, 1.9, 1.7, 1.8, 2.0, 1.8, 1.7,
          1.3, 1.2, 1.4, 1.3, 1.2, 1.4, 1.3, 1.2, 0.9, 1.0, 0.9, 0.8,
          0.6, 0.5, 0.3, 0.2, 0.1]
B_2108 = [3.9, 4.0, 3.8, 4.0, 4.1, 3.9, 4.1, 4.2, 4.0, 4.1, 4.3, 4.2,
          4.1, 4.2, 4.0, 4.1, 4.2, 4.0, 3.8, 3.8, 3.7, 3.6, 3.5, 3.4,
          1.4, 1.3, 1.5, 1.4, 1.2, 1.4, 1.5, 1.3, 1.4, 1.6, 1.4, 1.3,
          1.0, 0.9, 1.1, 1.0, 0.9, 1.1, 1.0, 0.9, 0.7, 0.8, 0.7, 0.6,
          0.5, 0.4, 0.3, 0.2, 0.1]
B_2108B = [4.6, 4.7, 4.5, 4.7, 4.8, 4.6, 4.8, 4.9, 4.7, 4.8, 5.0, 4.9,
           4.8, 4.9, 4.7, 4.8, 4.9, 4.7, 4.5, 4.4, 4.3, 4.2, 4.1, 4.0,
           1.9, 1.8, 2.0, 1.9, 1.7, 1.9, 2.0, 1.8, 1.9, 2.1, 1.9, 1.8,
           1.4, 1.3, 1.5, 1.4, 1.3, 1.5, 1.4, 1.3, 0.9, 1.0, 0.9, 0.8,
           0.6, 0.5, 0.3, 0.2, 0.1]
B_2808 = [4.0, 3.9, 4.1, 4.2, 4.0, 4.1, 4.3, 4.2, 4.1, 4.3, 4.4, 4.2,
          4.1, 4.3, 4.2, 4.1, 4.2, 4.0, 3.9, 3.8, 3.7, 3.7, 3.6, 3.4,
          1.5, 1.6, 1.4, 1.5, 1.7, 1.5, 1.4, 1.6, 1.5, 1.4, 1.6, 1.5,
          1.1, 1.2, 1.0, 1.1, 1.2, 1.0, 1.1, 1.2, 0.7, 0.6, 0.7, 0.6,
          0.5, 0.4, 0.3, 0.2, 0.1]
B_0509 = [2.6, 2.5, 2.7, 2.8, 2.6, 2.7, 2.9, 2.8, 2.7, 2.9, 3.0, 2.8,
          2.7, 2.9, 2.8, 2.7, 2.8, 2.6, 2.5, 2.5, 2.4, 2.3, 2.3, 2.2,
          0.7, 0.8, 0.6, 0.7, 0.9, 0.7, 0.6, 0.8, 0.7, 0.6, 0.8, 0.7,
          0.5, 0.6, 0.4, 0.5, 0.6, 0.4, 0.5, 0.6, 0.3, 0.2, 0.3, 0.2,
          0.2, 0.1, 0.1, 0.0, 0.0]
B_1109 = [3.2, 3.1, 3.3, 3.4, 3.2, 3.3, 3.5, 3.4, 3.3, 3.5, 3.6, 3.4,
          3.3, 3.5, 3.4, 3.3, 3.4, 3.2, 3.1, 3.1, 3.0, 2.9, 2.9, 2.8,
          1.0, 1.1, 0.9, 1.0, 1.2, 1.0, 0.9, 1.1, 1.0, 0.9, 1.1, 1.0,
          0.7, 0.8, 0.6, 0.7, 0.8, 0.6, 0.7, 0.8, 0.5, 0.4, 0.5, 0.4,
          0.3, 0.2, 0.2, 0.1, 0.0]
B_1409 = [4.8, 4.7, 4.9, 5.0, 4.8, 4.9, 5.1, 5.0, 4.9, 5.1, 5.2, 5.0,
          4.9, 5.1, 5.0, 4.9, 5.0, 4.8, 4.7, 4.6, 4.5, 4.4, 4.3, 4.2,
          2.0, 2.1, 1.9, 2.0, 2.2, 2.0, 1.9, 2.1, 2.0, 1.9, 2.1, 2.0,
          1.5, 1.6, 1.4, 1.5, 1.6, 1.8, 2.2, 2.5, 2.6, 2.4, 1.8, 1.3,
          0.9, 0.6, 0.4, 0.2, 0.1]
B_1509 = [4.3, 4.2, 4.4, 4.5, 4.3, 4.4, 4.6, 4.5, 4.4, 4.6, 4.7, 4.5,
          4.4, 4.6, 4.5, 4.4, 4.5, 4.3, 4.2, 4.1, 4.0, 3.9, 3.9, 3.7,
          1.7, 1.8, 1.6, 1.7, 1.9, 1.7, 1.6, 1.8, 1.7, 1.6, 1.8, 1.7,
          1.2, 1.3, 1.1, 1.2, 1.3, 1.1, 1.2, 1.3, 0.8, 0.7, 0.8, 0.7,
          0.6, 0.4, 0.3, 0.2, 0.1]
B_1609 = [5.9, 5.8, 6.0, 6.1, 5.9, 6.0, 6.2, 6.3, 6.2, 6.4, 6.5, 6.3,
          6.2, 6.4, 6.3, 6.2, 6.3, 6.1, 5.9, 5.8, 5.6, 5.5, 5.3, 5.1,
          3.7, 3.8, 3.6, 3.7, 3.9, 3.7, 3.6, 3.8, 3.7, 3.6, 3.8, 3.6,
          2.2, 2.3, 2.1, 2.2, 2.0, 1.9, 2.0, 1.9, 1.4, 1.2, 1.1, 0.9,
          0.7, 0.5, 0.4, 0.2, 0.1]
B_1709 = [3.4, 3.3, 3.5, 3.6, 3.4, 3.5, 3.7, 3.6, 3.5, 3.7, 3.8, 3.6,
          3.5, 3.7, 3.6, 3.5, 3.6, 3.4, 3.3, 3.3, 3.2, 3.1, 3.1, 2.9,
          1.1, 1.2, 1.0, 1.1, 1.3, 1.1, 1.0, 1.2, 1.1, 1.0, 1.2, 1.1,
          0.8, 0.9, 0.7, 0.8, 0.9, 0.7, 0.8, 0.9, 0.5, 0.4, 0.5, 0.4,
          0.4, 0.3, 0.2, 0.1, 0.0]
B_2509 = [4.1, 4.0, 4.2, 4.3, 4.1, 4.2, 4.4, 4.3, 4.2, 4.4, 4.5, 4.3,
          4.2, 4.4, 4.3, 4.2, 4.3, 4.1, 4.0, 3.9, 3.8, 3.8, 3.7, 3.5,
          1.6, 1.7, 1.5, 1.6, 1.8, 1.6, 1.5, 1.7, 1.6, 1.5, 1.7, 1.6,
          1.1, 1.2, 1.0, 1.1, 1.2, 1.0, 1.1, 1.2, 0.7, 0.6, 0.7, 0.6,
          0.5, 0.4, 0.3, 0.2, 0.1]
B_0310 = [4.4, 4.3, 4.5, 4.6, 4.4, 4.5, 4.7, 4.6, 4.5, 4.7, 4.8, 4.6,
          4.5, 4.7, 4.6, 4.5, 4.6, 4.4, 4.3, 4.2, 4.1, 4.0, 4.0, 3.8,
          1.7, 1.8, 1.6, 1.7, 1.9, 1.7, 1.6, 1.8, 1.7, 1.6, 1.8, 1.7,
          1.3, 1.4, 1.2, 1.3, 1.4, 1.2, 1.3, 1.4, 0.8, 0.7, 0.8, 0.7,
          0.6, 0.4, 0.3, 0.2, 0.1]
B_1010 = [3.7, 3.6, 3.8, 3.9, 3.7, 3.8, 4.0, 3.9, 3.8, 4.0, 4.1, 3.9,
          3.8, 4.0, 3.9, 3.8, 3.9, 3.7, 3.6, 3.5, 3.4, 3.4, 3.3, 3.2,
          1.3, 1.4, 1.2, 1.3, 1.5, 1.3, 1.2, 1.4, 1.3, 1.2, 1.4, 1.3,
          0.9, 1.0, 0.8, 0.9, 1.0, 0.8, 0.9, 1.0, 0.6, 0.5, 0.6, 0.5,
          0.4, 0.3, 0.2, 0.1, 0.1]
B_1110 = [4.9, 4.8, 5.0, 5.1, 4.9, 5.0, 5.2, 5.1, 5.0, 5.2, 5.3, 5.1,
          5.0, 5.2, 5.1, 5.0, 5.1, 4.9, 4.8, 4.7, 4.6, 4.5, 4.4, 4.3,
          2.0, 2.1, 1.9, 2.0, 2.2, 2.0, 1.9, 2.1, 2.0, 1.9, 2.1, 2.0,
          1.5, 1.6, 1.4, 1.5, 1.6, 1.4, 1.5, 1.6, 1.0, 0.9, 1.0, 0.9,
          0.7, 0.5, 0.3, 0.2, 0.1]
B_1910 = [3.1, 3.0, 3.2, 3.3, 3.1, 3.2, 3.4, 3.3, 3.2, 3.4, 3.5, 3.3,
          3.2, 3.4, 3.3, 3.2, 3.3, 3.1, 3.0, 3.0, 2.9, 2.8, 2.8, 2.7,
          0.9, 1.0, 0.8, 0.9, 1.1, 0.9, 0.8, 1.0, 0.9, 0.8, 1.0, 0.9,
          0.7, 0.8, 0.6, 0.7, 0.8, 0.6, 0.7, 0.8, 0.4, 0.3, 0.4, 0.3,
          0.3, 0.2, 0.2, 0.1, 0.0]
B_2310 = [3.9, 3.8, 4.0, 4.1, 3.9, 4.0, 4.2, 4.1, 4.0, 4.2, 4.3, 4.1,
          4.0, 4.2, 4.1, 4.0, 4.1, 3.9, 3.8, 3.7, 3.6, 3.6, 3.5, 3.3,
          1.4, 1.5, 1.3, 1.4, 1.6, 1.4, 1.3, 1.5, 1.4, 1.3, 1.5, 1.4,
          1.0, 1.1, 0.9, 1.0, 1.1, 0.9, 1.0, 1.1, 0.6, 0.5, 0.6, 0.5,
          0.5, 0.4, 0.3, 0.2, 0.1]
B_3010 = [4.7, 4.6, 4.8, 4.9, 4.7, 4.8, 5.0, 4.9, 4.8, 5.0, 5.1, 4.9,
          4.8, 5.0, 4.9, 4.8, 4.9, 4.7, 4.6, 4.5, 4.4, 4.3, 4.2, 4.1,
          1.9, 2.0, 1.8, 1.9, 2.1, 1.9, 1.8, 2.0, 1.9, 1.8, 2.0, 1.9,
          1.4, 1.5, 1.3, 1.4, 1.5, 1.3, 1.4, 1.5, 0.9, 0.8, 0.9, 0.8,
          0.6, 0.5, 0.3, 0.2, 0.1]
B_2011 = [4.2, 4.1, 4.3, 4.4, 4.2, 4.3, 4.5, 4.4, 4.3, 4.5, 4.6, 4.4,
          4.3, 4.5, 4.4, 4.3, 4.4, 4.2, 4.1, 4.0, 3.9, 3.9, 3.8, 3.6,
          1.6, 1.7, 1.5, 1.6, 1.8, 1.6, 1.5, 1.7, 1.6, 1.5, 1.7, 1.6,
          1.2, 1.3, 1.1, 1.2, 1.3, 1.1, 1.2, 1.3, 0.8, 0.7, 0.8, 0.7,
          0.5, 0.4, 0.3, 0.2, 0.1]

B_SERIES = [B_2203, B_2303, B_2404, B_2604, B_3004, B_0305, B_0805, B_1005, B_1505, B_1705,
            B_2205, B_2405, B_3105, B_1106, B_1406, B_1906, B_2506, B_0307, B_1207, B_2507,
            B_3107, B_0708, B_1408, B_2108, B_2108B, B_2808, B_0509, B_1109, B_1409, B_1509,
            B_1609, B_1709, B_2509, B_0310, B_1010, B_1110, B_1910, B_2310, B_3010, B_2011]

COLORS_A = ["#000000", "#000000", "#4F81BD", "#9BBB59", "#31859C", "#403152", "#77933C", "#C0504D",
            "#E46C0A", "#4BACC6", "#FAC090", "#A6775A", "#4F81BD", "#C0504D", "#9BBB59", "#8064A2",
            "#4BACC6", "#F79646", "#4F81BD", "#C0504D", "#9BBB59", "#8064A2", "#4BACC6", "#F79646",
            "#95B3D7", "#D99694", "#262626", "#D7E4BD", "#9A7FBF", "#93CDDD", "#95B3D7", "#E6B9B8",
            "#C3D69B", "#B3A2C7", "#B7DEE8", "#FCD5B5", "#B9CDE5", "#F2DCDB", "#D7E4BD", "#CCC1DA"]
MARKERS_A = ["#000000", "#C0504D"] + COLORS_A[2:]
COLORS_B = ["#000000", "#A85552", "#4F81BD", "#000000", "#31859C", "#948A54", "#000000", "#C0504D",
            "#E46C0A", "#4BACC6", "#C4BD97", "#C0783F", "#4F81BD", "#C0504D", "#9BBB59", "#595959",
            "#4BACC6", "#F79646", "#4F81BD", "#C0504D", "#A3B55F", "#8064A2", "#4BACC6", "#F79646",
            "#95B3D7", "#D99694", "#76774A", "#C6D9F1", "#9A7FBF", "#4BACC6", "#9BBB59", "#BFBFBF",
            "#E6B9B8", "#D7E4BD", "#B3A2C7", "#B7DEE8", "#FCD5B5", "#E6B9B8", "#D7E4BD", "#CCC1DA"]
MARKERS_B = ["#000000", "#953735"] + COLORS_B[2:]

for s in A_SERIES + B_SERIES:
    assert len(s) == len(DEPTH_M), len(s)

HAS_FRAME_ALIGN = "frame_align" in Plot.properties()


def base_fig(width, height, xr, yr, **kw):
    opts = dict(width=width, height=height, x_range=xr, y_range=yr, output_backend="svg",
                toolbar_location=None, **kw)
    if HAS_FRAME_ALIGN:
        opts["frame_align"] = False
    p = figure(**opts)
    p.background_fill_color = "white"
    p.border_fill_color = "white"
    return p


def text_fig(width, height, x0, x1, y_top, y_bottom, tx, ty, text, size, angle=0.0):
    """A blank figure whose frame covers the whole canvas (page-pixel coordinates)."""
    p = base_fig(width, height, Range1d(x0, x1), Range1d(y_bottom, y_top),
                 x_axis_location=None, y_axis_location=None,
                 min_border_left=0, min_border_right=0, min_border_top=0, min_border_bottom=0)
    p.grid.visible = False
    p.outline_line_color = None
    p.text(x=[tx], y=[ty], text=[text], angle=angle, text_font=value(FONT), text_font_style="bold",
           text_font_size=size, text_align="center", text_baseline="middle", text_color="#000000")
    return p


def make_chart(series, lcols, mcols, width, height, mbl, mbr, mbt, mbb, yside):
    p = base_fig(width, height, Range1d(-30, 30), Range1d(52.5, 0.5), y_axis_location=yside,
                 min_border_left=mbl, min_border_right=mbr, min_border_top=mbt, min_border_bottom=mbb)
    p.outline_line_color = "#3a3a3a"
    p.outline_line_width = 1.2
    p.xaxis.ticker = X_TICKS
    p.yaxis.ticker = Y_TICKS
    p.xaxis.formatter = PrintfTickFormatter(format="%d")
    p.yaxis.formatter = PrintfTickFormatter(format="%.1f")
    for ax in p.axis:
        ax.axis_line_color = None
        ax.major_tick_line_color = None
        ax.minor_tick_line_color = None
        ax.major_tick_in = 0
        ax.major_tick_out = 0
        ax.minor_tick_in = 0
        ax.minor_tick_out = 0
        ax.major_label_text_font = FONT
        ax.major_label_text_font_size = "14px"
        ax.major_label_text_color = "#111111"
    p.xaxis.major_label_standoff = 11
    p.yaxis.major_label_standoff = 15 if yside == "left" else 14
    p.xgrid.grid_line_color = "#c8c8c8"
    p.ygrid.grid_line_color = "#c8c8c8"
    for k, (vals, lc, mc) in enumerate(zip(series, lcols, mcols)):
        if k == 0:
            p.line(vals, DEPTH_M, line_color="#000000", line_width=7)
            p.scatter(vals, DEPTH_M, marker="square", size=8, color="#000000")
        else:
            p.line(vals, DEPTH_M, line_color=lc, line_width=1.2)
            p.scatter(vals, DEPTH_M, marker="cross", size=7, line_color=mc, line_width=1)
    return p


def make_legend(width, mbl, mbr, y_first, y_last, lcols, mcols):
    box_top, box_bottom = 9, 1276
    p = base_fig(width, H, Range1d(0, width - mbl - mbr), Range1d(box_bottom, box_top),
                 x_axis_location=None, y_axis_location=None,
                 min_border_left=mbl, min_border_right=mbr,
                 min_border_top=box_top - TOP, min_border_bottom=TOP + H - box_bottom)
    p.grid.visible = False
    p.outline_line_color = "#3a3a3a"
    p.outline_line_width = 1
    n = len(DATES)
    step = (y_last - y_first) / (n - 1)
    ys = [y_first + i * step for i in range(n)]
    widths = [5] + [1] * (n - 1)
    p.segment(x0=[10] * n, y0=ys, x1=[62] * n, y1=ys, line_color=lcols, line_width=widths)
    markers = ["square"] + ["cross"] * (n - 1)
    sizes = [10] + [7] * (n - 1)
    p.scatter(x=[36] * n, y=ys, marker=markers, size=sizes, line_color=mcols, fill_color=mcols, line_width=1)
    p.text(x=[67] * n, y=ys, text=DATES, text_font=value(FONT), text_font_size="12px",
           text_baseline="middle", text_align="left", text_color="#000000")
    return p


# ---------- Panel A (page x 8..688) ----------
# depth label strip x 9..54, chart column x 54..538, legend x 538..687
depth_a = text_fig(45, H, 9, 54, TOP, TOP + H, 30, 584, Y_TITLE, "15px", angle=math.pi / 2)
title_a = text_fig(484, 64, 54, 538, TOP, 70, 324, 27, TITLE_A, "23px")
chart_a = make_chart(A_SERIES, COLORS_A, MARKERS_A, 484, 1170, 49, 19, 15, 44, "left")  # frame 103..519 x 85..1196
xt_a = text_fig(484, 42, 54, 538, 1240, 1282, 323, 1257, X_TITLE, "15px")
leg_a = make_legend(149, 0, 7, 22, 1259, COLORS_A, MARKERS_A)

# ---------- Panel B (page x 712..1390) ----------
# legend x 713..868, chart column x 868..1366, depth label strip x 1366..1389
leg_b = make_legend(155, 9, 8, 25, 1259, COLORS_B, MARKERS_B)
title_b = text_fig(498, 66, 868, 1366, TOP, 72, 1110, 29, TITLE_B, "23px")
chart_b = make_chart(B_SERIES, COLORS_B, MARKERS_B, 498, 1171, 11, 44, 16, 44, "right")  # frame 879..1322 x 88..1199
xt_b = text_fig(498, 39, 868, 1366, 1243, 1282, 1081, 1256, X_TITLE, "15px")
depth_b = text_fig(23, H, 1366, 1389, TOP, TOP + H, 1375.5, 584, Y_TITLE, "15px", angle=math.pi / 2)

panel_style = {"border": "1px solid #7f7f7f", "border-bottom": "none"}
panel_a = row(depth_a, column(title_a, chart_a, xt_a), leg_a, styles=panel_style)
panel_b = row(leg_b, column(title_b, chart_b, xt_b), depth_b, styles=panel_style)

layout = column(Spacer(width=10, height=5),
                row(Spacer(width=8, height=10), panel_a, Spacer(width=24, height=10), panel_b))

open("out.html", "w").write(file_html(layout, INLINE, title="C305-IM03007"))
